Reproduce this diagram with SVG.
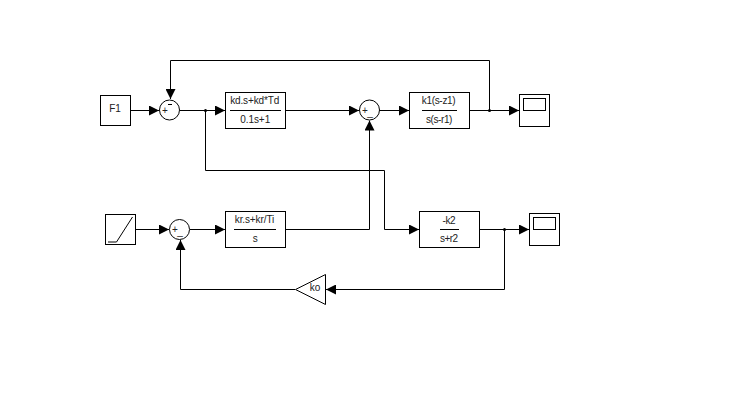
<svg xmlns="http://www.w3.org/2000/svg" width="754" height="415" viewBox="0 0 754 415">
<defs>
<marker id="arrow" markerUnits="userSpaceOnUse" markerWidth="10" markerHeight="10" refX="10" refY="5" orient="auto"><path d="M0,0 L10,5 L0,10 Z" fill="#000"/></marker>
</defs>
<style>
.b{fill:#fff;stroke:#000;stroke-width:1}
.c{fill:none;stroke:#000;stroke-width:1}
.a{marker-end:url(#arrow)}
text{font-family:"Liberation Sans",Arial,sans-serif;font-size:10px;fill:#222;text-anchor:middle}
</style>
<rect width="754" height="415" fill="#fff"/>
<g id="connectors">
<path class="c a" d="M131,110.500H159"/>
<path class="c a" d="M180,110.500H225"/>
<path class="c a" d="M285.500,110.500H359"/>
<path class="c a" d="M379,110.500H409"/>
<path class="c a" d="M469.500,110.500H519"/>
<path class="c a" d="M489.500,110.500V60.500H170.500V99"/>
<path class="c a" d="M205.500,110.500V170.500H384.500V229.500H419"/>
<path class="c a" d="M135,229.500H169"/>
<path class="c a" d="M190,229.500H225"/>
<path class="c a" d="M285.500,229.500H369.500V120.500"/>
<path class="c a" d="M479.500,229.500H529"/>
<path class="c a" d="M504.500,229.500V289.500H326"/>
<path class="c a" d="M295,289.500H180.500V240"/>
<circle cx="205.500" cy="110.500" r="1.500"/>
<circle cx="489.500" cy="110.500" r="1.500"/>
<circle cx="504.500" cy="229.500" r="1.500"/>
</g>
<g id="F1"><rect class="b" x="100.500" y="95.500" width="30" height="30"/><text x="115" y="112">F1</text></g>
<g id="sum1"><circle class="b" cx="169.500" cy="110" r="10"/><text x="165" y="114" font-size="8">+</text><path class="c" d="M168,104.500H172"/></g>
<g id="tf1"><rect class="b" x="225.500" y="92.500" width="60" height="36"/><path class="c" d="M230,110.500H281"/><text x="254.700" y="104" textLength="49">kd.s+kd*Td</text><text x="255.200" y="123" textLength="30">0.1s+1</text></g>
<g id="sum2"><circle class="b" cx="369.500" cy="110" r="10"/><text x="365" y="114" font-size="8">+</text><text x="370" y="116">_</text></g>
<g id="tf2"><rect class="b" x="409.500" y="92.500" width="60" height="36"/><path class="c" d="M422,110.500H457"/><text x="438.700" y="104" textLength="34">k1(s-z1)</text><text x="439.200" y="123" textLength="26.500">s(s-r1)</text></g>
<g id="scope1"><rect class="b" x="519.500" y="94.500" width="30" height="32"/><rect class="b" x="523.500" y="98.500" width="22" height="12"/></g>
<g id="ramp"><rect class="b" x="105.500" y="214.500" width="30" height="30"/><path class="c" d="M108,242H116.500L132.500,217"/></g>
<g id="sum3"><circle class="b" cx="179.500" cy="229.500" r="10"/><text x="175" y="232.500" font-size="8">+</text><text x="180" y="235">_</text></g>
<g id="tf3"><rect class="b" x="225.500" y="211.500" width="60" height="36"/><path class="c" d="M234,229.500H276"/><text x="254.500" y="223" textLength="39.500">kr.s+kr/Ti</text><text x="255.300" y="242">s</text></g>
<g id="tf4"><rect class="b" x="419.500" y="211.500" width="60" height="36"/><path class="c" d="M440,229.500H459"/><text x="449" y="224" textLength="13">-k2</text><text x="449" y="242" textLength="18">s+r2</text></g>
<g id="scope2"><rect class="b" x="529.500" y="213.500" width="30" height="32"/><rect class="b" x="533.500" y="217.500" width="22" height="12"/></g>
<g id="gain"><path class="b" d="M325.500,274.500V304.500L295.500,289.500Z"/><text x="315" y="291">ko</text></g>
</svg>
